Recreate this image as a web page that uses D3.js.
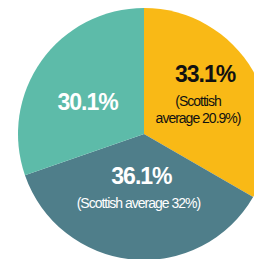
<!DOCTYPE html>
<html>
<head>
<meta charset="utf-8">
<script src="https://cdn.jsdelivr.net/npm/d3@7"></script>
<style>
  html, body { margin: 0; padding: 0; background: #fff; }
  svg { display: block; }
  text { font-family: "Liberation Sans", Arial, sans-serif; }
</style>
</head>
<body>
<div id="chart"></div>
<script>
// slice data, clockwise from 12 o'clock
const categories = ["yellow", "dark", "light"];
const values = [33.1, 36.1, 30.1];
const mainLabels = ["33.1%", "36.1%", "30.1%"];
const subLabels = [
  ["(Scottish", "average 20.9%)"],
  ["(Scottish average 32%)"],
  []
];

const colors = {
  yellow: "#f9b916",
  dark: "#4f7e8a",
  light: "#5dbba9"
};
const textColors = { yellow: "#111", dark: "#fff", light: "#fff" };

const width = 254, height = 259;
const cx = 144, cy = 134, radius = 126;

const svg = d3.select("#chart")
  .append("svg")
  .attr("width", width)
  .attr("height", height);

const g = svg.append("g").attr("transform", `translate(${cx},${cy})`);

const pie = d3.pie().sort(null).value((d) => d.value);
const arc = d3.arc().innerRadius(0).outerRadius(radius);
const labelArc = d3.arc().innerRadius(radius * 0.55).outerRadius(radius * 0.55);

const data = categories.map((c, i) => ({
  key: c, value: values[i], main: mainLabels[i], sub: subLabels[i]
}));
const arcs = pie(data);

g.selectAll("path.slice")
  .data(arcs)
  .enter()
  .append("path")
  .attr("class", "slice")
  .attr("d", arc)
  .attr("fill", (d) => colors[d.data.key]);

// label nudges relative to each slice centroid
const labelShift = {
  yellow: { main: [1, -17], sub: [-6, 7], lineH: 17 },
  dark: { main: [4, -19], sub: [1, 5], lineH: 17 },
  light: { main: [0, 16], sub: [0, 0], lineH: 17 }
};

const labels = g.selectAll("g.label")
  .data(arcs)
  .enter()
  .append("g")
  .attr("class", "label")
  .attr("transform", (d) => `translate(${labelArc.centroid(d)})`);

labels.append("text")
  .attr("x", (d) => labelShift[d.data.key].main[0])
  .attr("y", (d) => labelShift[d.data.key].main[1])
  .attr("text-anchor", "middle")
  .attr("font-size", 23)
  .attr("font-weight", "bold")
  .attr("letter-spacing", -1.0)
  .attr("fill", (d) => textColors[d.data.key])
  .text((d) => d.data.main);

labels.each(function (d) {
  const s = labelShift[d.data.key];
  d3.select(this)
    .selectAll("text.sub")
    .data(d.data.sub)
    .enter()
    .append("text")
    .attr("class", "sub")
    .attr("x", s.sub[0])
    .attr("y", (t, i) => s.sub[1] + i * s.lineH)
    .attr("text-anchor", "middle")
    .attr("font-size", 14)
    .attr("letter-spacing", -1.0)
    .attr("fill", textColors[d.data.key])
    .text((t) => t);
});
</script>
</body>
</html>
